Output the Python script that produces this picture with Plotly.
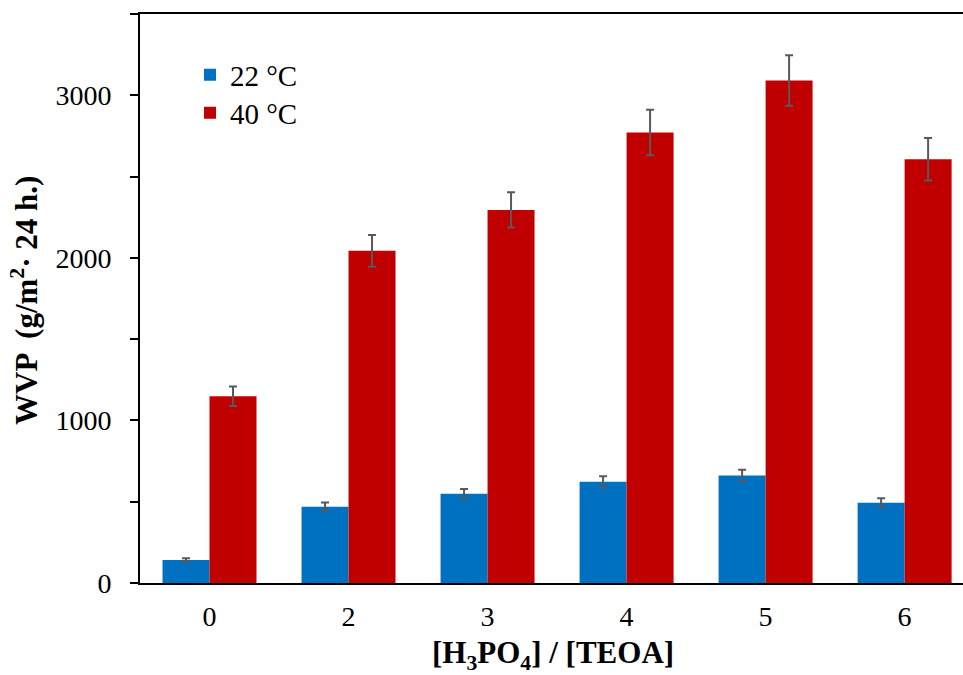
import plotly.graph_objects as go

categories = ["0", "2", "3", "4", "5", "6"]
wvp_22 = [142, 469, 549, 623, 662, 494]
err_22 = [10, 26, 29, 34, 35, 27]
wvp_40 = [1149, 2043, 2295, 2771, 3091, 2607]
err_40 = [60, 98, 108, 140, 155, 131]
series_names = ["22 °C", "40 °C"]
y_tick_vals = [0, 1000, 2000, 3000]

FONT = "Liberation Serif, Times New Roman, serif"
W, H = 963, 675
L, R, T, B = 140, 0, 14, 92

fig = go.Figure()
fig.add_trace(go.Bar(
    x=categories, y=wvp_22, name=series_names[0], legend="legend",
    marker=dict(color="#0070C0", line=dict(width=0)),
    error_y=dict(type="data", array=err_22, color="#595959", thickness=2, width=4),
))
fig.add_trace(go.Bar(
    x=categories, y=wvp_40, name=series_names[1], legend="legend2",
    marker=dict(color="#C00000", line=dict(width=0)),
    error_y=dict(type="data", array=err_40, color="#595959", thickness=2, width=4),
))

plot_h = H - T - B
plot_w = W - L - R

def px_x(px):
    return (px - L) / plot_w

def px_y(py):
    return (H - B - py) / plot_h

leg_common = dict(
    xanchor="left", yanchor="middle",
    bgcolor="rgba(0,0,0,0)", font=dict(family=FONT, size=29, color="black"),
    itemwidth=30,
)

fig.update_layout(
    width=W, height=H,
    margin=dict(l=L, r=R, t=T, b=B, pad=0),
    paper_bgcolor="white", plot_bgcolor="white",
    barmode="group", bargap=0.324, bargroupgap=0,
    font=dict(family=FONT, size=28, color="black"),
    showlegend=True,
    legend=dict(x=px_x(190), y=px_y(75), **leg_common),
    legend2=dict(x=px_x(190), y=px_y(113), **leg_common),
    xaxis=dict(
        type="category", range=[-0.5, 5.42],
        showline=True, linecolor="black", linewidth=2, mirror=True,
        ticks="", showgrid=False, zeroline=False,
        tickfont=dict(family=FONT, size=28, color="black"),
        ticklabelstandoff=7,
    ),
    yaxis=dict(
        range=[0, 3500], tickvals=y_tick_vals,
        showline=True, linecolor="black", linewidth=2,
        ticks="outside", ticklen=8, tickwidth=2, tickcolor="black",
        minor=dict(dtick=500, ticks="outside", ticklen=8, tickwidth=2, tickcolor="black"),
        showgrid=False, zeroline=False,
        tickfont=dict(family=FONT, size=28, color="black"),
        ticklabelstandoff=13,
    ),
)

fig.add_annotation(
    text="<b>WVP  (g/m<sup>2</sup>· 24 h.)</b>",
    xref="paper", yref="paper", x=px_x(24), y=px_y(301),
    xanchor="center", yanchor="middle", textangle=-90, showarrow=False,
    font=dict(family=FONT, size=31, color="black"),
)
fig.add_annotation(
    text="<b>[H<sub>3</sub>PO<sub>4</sub>] / [TEOA]</b>",
    xref="paper", yref="paper", x=px_x(553), y=px_y(655),
    xanchor="center", yanchor="middle", showarrow=False,
    font=dict(family=FONT, size=31, color="black"),
)

fig.write_html(
    "out.html",
    config={"displayModeBar": False},
    post_script="document.body.style.margin='0';document.body.style.overflow='hidden';",
)
